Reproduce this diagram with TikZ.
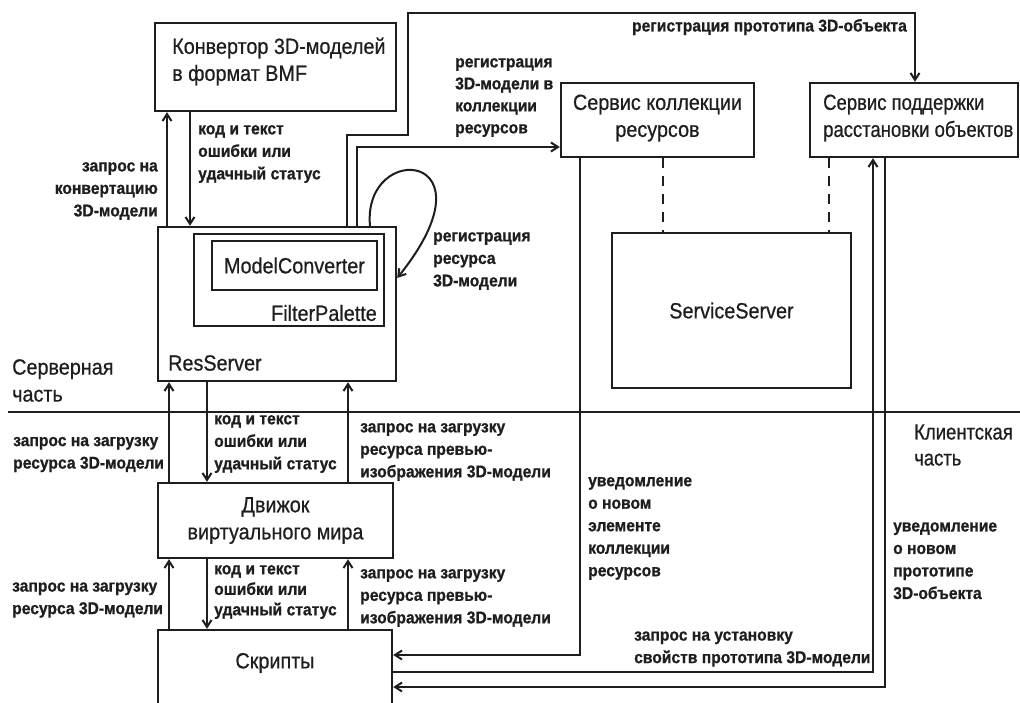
\documentclass[tikz,border=0pt]{standalone}
\usepackage{fontspec}
\setmainfont{Liberation Sans}
\newfontfamily\boxfont[FakeStretch=0.9,FakeBold=0.6]{Liberation Sans}
\newfontfamily\boxnarrow[FakeStretch=0.84,FakeBold=0.6]{Liberation Sans}
\newfontfamily\lblfont[FakeStretch=0.92,FakeBold=0.8]{Liberation Sans}
\usetikzlibrary{arrows.meta}
\definecolor{ink}{RGB}{30,30,30}
\begin{document}
\begin{tikzpicture}[x=1pt,y=-1pt,
  box/.style={draw=ink, line width=2.4pt, inner sep=0pt},
  txt/.style={text=ink, font=\boxfont\fontsize{22}{27}\selectfont, inner sep=0pt, align=left},
  lbl/.style={text=ink, font=\lblfont\bfseries\fontsize{17}{22.5}\selectfont, inner sep=0pt, align=left},
  conn/.style={draw=ink, line width=2pt},
  arr/.style={conn, -{Straight Barb[length=7pt,width=9pt]}},
  dashline/.style={draw=ink, line width=2pt, dash pattern=on 10pt off 8pt}]
\useasboundingbox (0,0) rectangle (1020,702);
\fill[white] (0,0) rectangle (1020,702);

% boxes
\node[box, minimum width=241pt, minimum height=88pt] (conv) at (275.5,67) {};
\node[txt, anchor=west] (convT) at (172,61.5) {Конвертор 3D-моделей\\в формат BMF};
\node[box, minimum width=238pt, minimum height=154pt] (res) at (277,304) {};
\node[box, minimum width=190pt, minimum height=92pt] (fp) at (289,280) {};
\node[box, minimum width=165pt, minimum height=49pt, txt, align=center] (mc) at (294.5,265.5) {ModelConverter};
\node[txt, anchor=east] (fpT) at (377,313) {FilterPalette};
\node[txt, anchor=west] (resT) at (168,363) {ResServer};
\node[box, minimum width=193pt, minimum height=74pt] (coll) at (657.5,120) {};
\node[txt, align=center] (collT) at (657.5,118) {Сервис коллекции\\ресурсов};
\node[box, minimum width=208pt, minimum height=74pt] (supp) at (914,120) {};
\node[txt, anchor=west, font=\boxnarrow\fontsize{22}{27}\selectfont] (suppT) at (823,118) {Сервис поддержки\\расстановки объектов};
\node[box, minimum width=239pt, minimum height=155pt, txt, align=center] (ss) at (731.5,310.5) {ServiceServer};
\node[box, minimum width=235pt, minimum height=75pt, txt, align=center] (eng) at (275.5,520.5) {Движок\\виртуального мира};
\node[box, minimum width=234pt, minimum height=90pt] (scr) at (275,675) {};
\node[txt] (scrT) at (275,663) {Скрипты};

% separator
\coordinate (sL) at (8,412);
\coordinate (sR) at (1020,412);
\draw[conn, line width=2.4pt] (sL) -- (sR);
\node[txt, anchor=west] (srv) at (12,380.5) {Серверная\\часть};
\node[txt, anchor=west, font=\boxnarrow\fontsize{22}{26}\selectfont] (cli) at (914,445) {Клиентская\\часть};

% x positions
\coordinate (xa) at (167,0);
\coordinate (xb) at (190,0);
\coordinate (xc) at (347,0);
\coordinate (xd) at (357,0);
\coordinate (xl) at (370,0);
\coordinate (xe) at (169,0);
\coordinate (xf) at (207,0);
\coordinate (xg) at (348,0);
\coordinate (xh) at (580,0);
\coordinate (xi) at (873,0);
\coordinate (xj) at (885,0);
\coordinate (k1) at (408,135);
\coordinate (k2) at (915,13);
\coordinate (k3) at (0,147);
\coordinate (k4) at (0,278);
\coordinate (y1) at (0,655);
\coordinate (y2) at (0,672);
\coordinate (y3) at (0,687);

% converter <-> resserver
\draw[arr] (res.north -| xa) -- (conv.south -| xa);
\draw[arr] (conv.south -| xb) -- (res.north -| xb);
% registrations
\draw[arr] (res.north -| xc) |- (k1) |- (k2) -- (supp.north -| k2);
\draw[arr] (res.north -| xd) |- (coll.west |- k3);
\draw[arr] (res.north -| xl) .. controls (362,140) and (500,150) .. (res.east |- k4);
% resserver <-> engine
\draw[arr] (eng.north -| xe) -- (res.south -| xe);
\draw[arr] (res.south -| xf) -- (eng.north -| xf);
\draw[arr] (eng.north -| xg) -- (res.south -| xg);
% engine <-> scripts
\draw[arr] (scr.north -| xe) -- (eng.south -| xe);
\draw[arr] (eng.south -| xf) -- (scr.north -| xf);
\draw[arr] (scr.north -| xg) -- (eng.south -| xg);
% services <-> scripts
\draw[arr] (coll.south -| xh) |- (scr.east |- y1);
\draw[arr] (scr.east |- y2) -| (supp.south -| xi);
\draw[arr] (supp.south -| xj) |- (scr.east |- y3);
% dashed links
\coordinate (d1) at (663,0);
\coordinate (d2) at (829,0);
\draw[dashline] (coll.south -| d1) -- (ss.north -| d1);
\draw[dashline] (supp.south -| d2) -- (ss.north -| d2);

% labels
\node[lbl, anchor=east, align=right] (l1) at (158,191) {запрос на\\конвертацию\\3D-модели};
\node[lbl, anchor=west] (l2) at (198,154) {код и текст\\ошибки или\\удачный статус};
\node[lbl, anchor=west, font=\lblfont\bfseries\fontsize{17}{22}\selectfont] (l3) at (455,97.5) {регистрация\\3D-модели в\\коллекции\\ресурсов};
\node[lbl, anchor=east] (l4) at (907,27) {регистрация прототипа 3D-объекта};
\node[lbl, anchor=west] (l5) at (433,261) {регистрация\\ресурса\\3D-модели};
\node[lbl, anchor=west] (l6) at (13,454.5) {запрос на загрузку\\ресурса 3D-модели};
\node[lbl, anchor=west] (l7) at (214,444) {код и текст\\ошибки или\\удачный статус};
\node[lbl, anchor=west] (l8) at (360,452) {запрос на загрузку\\ресурса превью-\\изображения 3D-модели};
\node[lbl, anchor=west] (l9) at (12,600) {запрос на загрузку\\ресурса 3D-модели};
\node[lbl, anchor=west, font=\lblfont\bfseries\fontsize{17}{20.5}\selectfont] (l10) at (214,592) {код и текст\\ошибки или\\удачный статус};
\node[lbl, anchor=west] (l11) at (360,598) {запрос на загрузку\\ресурса превью-\\изображения 3D-модели};
\node[lbl, anchor=west] (l12) at (588,528.4) {уведомление\\о новом\\элементе\\коллекции\\ресурсов};
\node[lbl, anchor=west] (l13) at (893,560.75) {уведомление\\о новом\\прототипе\\3D-объекта};
\node[lbl, anchor=west] (l14) at (634,649) {запрос на установку\\свойств прототипа 3D-модели};
\end{tikzpicture}
\end{document}
